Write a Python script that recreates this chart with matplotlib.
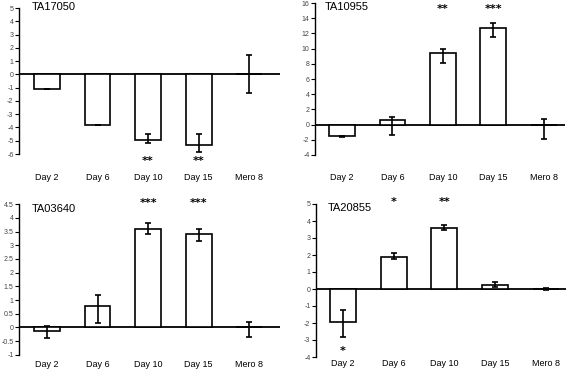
import matplotlib
matplotlib.use("Agg")
import matplotlib.pyplot as plt
import matplotlib.transforms as mtransforms

plt.rcParams['font.family'] = ['Liberation Sans', 'DejaVu Sans']

# Datos
days = ["Day 2", "Day 6", "Day 10", "Day 15", "Mero 8"]

ta17050_vals = [-1.1, -3.81, -4.94, -5.32, 0.0]
ta17050_lo = [0.0, 0.0, 0.22, 0.5, 1.4]
ta17050_hi = [0.0, 0.0, 0.47, 0.83, 1.45]
ta17050_stars = ["", "", "**", "**", ""]

ta10955_vals = [-1.55, 0.56, 9.36, 12.76, 0.0]
ta10955_lo = [0.11, 1.92, 1.22, 1.22, 1.96]
ta10955_hi = [0.0, 0.49, 0.64, 0.57, 0.69]
ta10955_stars = ["", "", "**", "***", ""]

ta03640_vals = [-0.15, 0.77, 3.6, 3.41, 0.0]
ta03640_lo = [0.25, 0.61, 0.19, 0.27, 0.36]
ta03640_hi = [0.21, 0.42, 0.21, 0.2, 0.21]
ta03640_stars = ["", "", "***", "***", ""]

ta20855_vals = [-1.93, 1.89, 3.6, 0.24, 0.0]
ta20855_lo = [0.88, 0.14, 0.13, 0.1, 0.05]
ta20855_hi = [0.69, 0.24, 0.14, 0.16, 0.05]
ta20855_stars = ["*", "*", "**", "", ""]
ta20855_stars_below = [True, False, False, False, False]

ta17050_ticks = list(range(-6, 6))
ta10955_ticks = list(range(-4, 17, 2))
ta03640_ticks = [-1, -0.5, 0, 0.5, 1, 1.5, 2, 2.5, 3, 3.5, 4, 4.5]
ta20855_ticks = list(range(-4, 6))


def panel(ax, name, vals, lo, hi, stars, ticks, xlim, pad, title_pos,
          star_y, below=None, below_y=None):
    """Dibujar un panel de barras con barras de error."""
    x = list(range(len(days)))
    ax.bar(x, vals, width=0.51, color="white", edgecolor="black",
           linewidth=1.2, zorder=2)
    ax.errorbar(x, vals, yerr=[lo, hi], fmt="none", ecolor="black",
                elinewidth=1.2, capsize=2.5, capthick=1.2, zorder=3)
    ax.axhline(0, color="black", linewidth=1.3, zorder=1)

    ax.set_xlim(*xlim)
    ax.set_ylim(ticks[0], ticks[-1])
    ax.set_yticks(ticks)
    ax.set_yticklabels([f"{t:g}" for t in ticks])
    ax.set_xticks(x)
    ax.set_xticklabels(days)

    for side in ["top", "right", "bottom"]:
        ax.spines[side].set_visible(False)
    ax.spines["left"].set_linewidth(1.0)
    ax.tick_params(axis="y", direction="out", length=3, width=0.8,
                   labelsize=5, labelcolor="#444444", pad=1)
    ax.tick_params(axis="x", length=0, labelsize=6.5, pad=pad)

    ax.text(title_pos[0], title_pos[1], name, transform=ax.transAxes,
            fontsize=8, ha="left", va="center")

    # asteriscos de significancia
    trans = mtransforms.blended_transform_factory(ax.transData, ax.transAxes)
    for i, s in enumerate(stars):
        if not s:
            continue
        y = star_y
        if below is not None and below[i]:
            y = below_y
        ax.text(i, y, s, transform=trans, ha="center", va="center",
                fontsize=8, fontweight="bold", family="DejaVu Sans")


if __name__ == '__main__':
    fig = plt.figure(figsize=(5.67, 3.69), dpi=100)

    ax1 = fig.add_axes([19 / 567, 1 - 154 / 369, 261 / 567, 146 / 369])
    panel(ax1, "TA17050", ta17050_vals, ta17050_lo, ta17050_hi,
          ta17050_stars, ta17050_ticks, (-0.554, 4.61), 14,
          (0.05, 1.005), -0.05)

    ax2 = fig.add_axes([315 / 567, 1 - 155 / 369, 250 / 567, 152 / 369])
    panel(ax2, "TA10955", ta10955_vals, ta10955_lo, ta10955_hi,
          ta10955_stars, ta10955_ticks, (-0.535, 4.42), 13,
          (0.04, 0.975), 0.96)

    ax3 = fig.add_axes([19 / 567, 1 - 354.7 / 369, 261 / 567, 150.4 / 369])
    panel(ax3, "TA03640", ta03640_vals, ta03640_lo, ta03640_hi,
          ta03640_stars, ta03640_ticks, (-0.554, 4.61), 3.5,
          (0.05, 0.967), 1.01)

    ax4 = fig.add_axes([316 / 567, 1 - 357 / 369, 250 / 567, 153 / 369])
    panel(ax4, "TA20855", ta20855_vals, ta20855_lo, ta20855_hi,
          ta20855_stars, ta20855_ticks, (-0.53, 4.4), 1.5,
          (0.047, 0.976), 1.013, ta20855_stars_below, 0.041)

    fig.savefig("out.png", dpi=100, facecolor="white")
